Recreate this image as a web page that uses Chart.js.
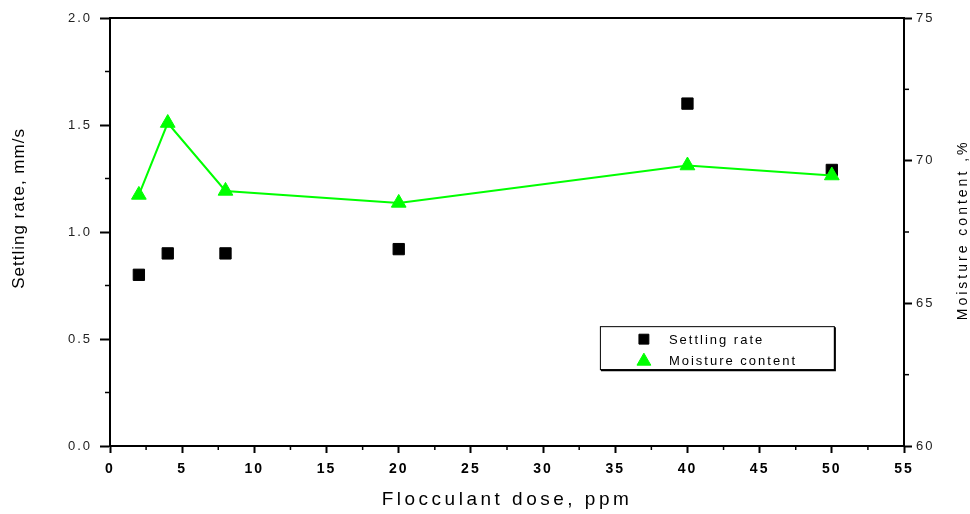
<!DOCTYPE html>
<html>
<head>
<meta charset="utf-8">
<script src="https://cdn.jsdelivr.net/npm/chart.js@4/dist/chart.umd.min.js"></script>
<style>
  html, body { margin: 0; padding: 0; background: #fff; }
  #chart { display: block; }
</style>
</head>
<body>
<canvas id="chart" width="970" height="514"></canvas>
<script>
// ───── Flocculant dose vs settling rate / moisture content ─────
// Dual-axis chart: black squares (settling rate, left) and green
// triangles joined by a line (moisture content, right).

const doses = [2, 4, 8, 20, 40, 50];
const settlingRate = [0.80, 0.90, 0.90, 0.92, 1.60, 1.29];
const moistureContent = [68.80, 71.32, 68.94, 68.52, 69.83, 69.48];

const seriesLabels = ['Settling rate', 'Moisture content'];
const xTitle = 'Flocculant dose, ppm';
const yLeftTitle = 'Settling rate, mm/s';
const yRightTitle = 'Moisture content ,%';

const GREEN = '#00ff00';
const FONT = '"Liberation Sans", Arial, sans-serif';

function _pts(ys) {
  return doses.map((d, i) => ({ x: d, y: ys[i] }));
}

// Short outward ticks between the labelled ones.
function _minorTicks(ctx, scale, step, len, side) {
  const { chartArea } = scale.chart;
  ctx.save();
  ctx.strokeStyle = '#000';
  ctx.lineWidth = 1.5;
  for (let v = scale.min + step; v < scale.max; v += step * 2) {
    const p = scale.getPixelForValue(v);
    ctx.beginPath();
    if (side === 'bottom') { ctx.moveTo(p, chartArea.bottom); ctx.lineTo(p, chartArea.bottom + len); }
    if (side === 'left') { ctx.moveTo(chartArea.left, p); ctx.lineTo(chartArea.left - len, p); }
    if (side === 'right') { ctx.moveTo(chartArea.right, p); ctx.lineTo(chartArea.right + len, p); }
    ctx.stroke();
  }
  ctx.restore();
}

function _rotText(ctx, text, x, y, font, spacing) {
  ctx.save();
  ctx.translate(x, y);
  ctx.rotate(-Math.PI / 2);
  ctx.font = font;
  ctx.letterSpacing = spacing;
  ctx.fillStyle = '#000';
  ctx.textAlign = 'center';
  ctx.textBaseline = 'middle';
  ctx.fillText(text, 0, 0);
  ctx.restore();
}

const decorPlugin = {
  id: 'decor',
  beforeDraw(chart) {
    chart.ctx.letterSpacing = '2px';
  },
  afterDraw(chart) {
    const ctx = chart.ctx;
    const a = chart.chartArea;
    const s = chart.scales;

    // top frame line
    ctx.save();
    ctx.strokeStyle = '#000';
    ctx.lineWidth = 2;
    ctx.beginPath();
    ctx.moveTo(a.left - 1, a.top);
    ctx.lineTo(a.right + 1, a.top);
    ctx.stroke();
    ctx.restore();

    _minorTicks(ctx, s.x, 2.5, 4, 'bottom');
    _minorTicks(ctx, s.y, 0.25, 5, 'left');
    _minorTicks(ctx, s.y1, 2.5, 5, 'right');

    // axis titles
    ctx.save();
    ctx.font = '19px ' + FONT;
    ctx.letterSpacing = '3.5px';
    ctx.fillStyle = '#000';
    ctx.textAlign = 'center';
    ctx.textBaseline = 'alphabetic';
    ctx.fillText(xTitle, (a.left + a.right) / 2, a.bottom + 59);
    ctx.restore();
    _rotText(ctx, yLeftTitle, 19, a.top + (a.bottom - a.top) * 0.445, '17px ' + FONT, '1px');
    _rotText(ctx, yRightTitle, a.right + 59, a.top + (a.bottom - a.top) * 0.495, '14px ' + FONT, '3px');

    // legend box
    const bx = a.left + (a.right - a.left) * 0.617;
    const by = a.top + (a.bottom - a.top) * 0.72;
    const bw = 234, bh = 43;
    ctx.save();
    ctx.fillStyle = '#fff';
    ctx.fillRect(bx, by, bw, bh);
    ctx.strokeStyle = '#000';
    ctx.lineWidth = 1;
    ctx.strokeRect(bx + 0.5, by + 0.5, bw, bh);
    ctx.lineWidth = 2;
    ctx.beginPath();
    ctx.moveTo(bx + bw + 1, by + 1);
    ctx.lineTo(bx + bw + 1, by + bh + 1);
    ctx.lineTo(bx + 1, by + bh + 1);
    ctx.stroke();
    ctx.restore();

    const mx = bx + 44;
    const rows = [by + 13, by + 34];
    chart.data.datasets.forEach((ds, i) => {
      ctx.save();
      ctx.fillStyle = ds.pointBackgroundColor;
      ctx.strokeStyle = ds.pointBorderColor;
      ctx.lineWidth = 1;
      Chart.helpers.drawPoint(ctx, { pointStyle: ds.pointStyle, radius: i === 0 ? 7 : 8, borderWidth: 1 }, mx, rows[i] + (i === 1 ? 1 : 0));
      ctx.restore();
      ctx.save();
      ctx.font = '13px ' + FONT;
      ctx.letterSpacing = '2px';
      ctx.fillStyle = '#000';
      ctx.textAlign = 'left';
      ctx.textBaseline = 'middle';
      ctx.fillText(ds.label, bx + 69, rows[i] + 1);
      ctx.restore();
    });
  },
};

const tickFont = { family: FONT, size: 13 };

new Chart(document.getElementById('chart'), {
  type: 'line',
  data: {
    datasets: [
      {
        label: seriesLabels[0],
        data: _pts(settlingRate),
        yAxisID: 'y',
        showLine: false,
        pointStyle: 'rect',
        pointRadius: 8,
        pointBackgroundColor: '#000',
        pointBorderColor: '#000',
        pointBorderWidth: 1,
        order: 1,
      },
      {
        label: seriesLabels[1],
        data: _pts(moistureContent),
        yAxisID: 'y1',
        borderColor: GREEN,
        borderWidth: 2,
        pointStyle: 'triangle',
        pointRadius: 8.5,
        pointBackgroundColor: GREEN,
        pointBorderColor: GREEN,
        pointBorderWidth: 1,
        tension: 0,
        order: 0,
      },
    ],
  },
  options: {
    responsive: false,
    animation: false,
    layout: { padding: { top: 18, left: 0, right: 0, bottom: 0 } },
    plugins: {
      legend: { display: false },
      tooltip: { enabled: false },
    },
    scales: {
      x: {
        type: 'linear',
        min: 0,
        max: 55,
        afterFit(scale) { scale.height = 68; },
        border: { display: true, color: '#000', width: 2 },
        grid: { drawOnChartArea: false, drawTicks: true, tickLength: 7, tickColor: '#000', tickWidth: 2 },
        ticks: { stepSize: 5, color: '#000', padding: 8, font: { family: FONT, size: 14, weight: 'bold' }, maxRotation: 0 },
      },
      y: {
        position: 'left',
        min: 0,
        max: 2,
        afterFit(scale) { scale.width = 110; },
        border: { display: true, color: '#000', width: 2 },
        grid: { drawOnChartArea: false, drawTicks: true, tickLength: 10, tickColor: '#000', tickWidth: 2 },
        ticks: {
          stepSize: 0.5,
          color: '#222',
          padding: 8,
          font: tickFont,
          callback: (v) => v.toFixed(1),
        },
      },
      y1: {
        position: 'right',
        min: 60,
        max: 75,
        afterFit(scale) { scale.width = 66; },
        border: { display: true, color: '#000', width: 2 },
        grid: { drawOnChartArea: false, drawTicks: true, tickLength: 8, tickColor: '#000', tickWidth: 2 },
        ticks: { stepSize: 5, color: '#222', padding: 4, font: tickFont },
      },
    },
  },
  plugins: [decorPlugin],
});
</script>
</body>
</html>
